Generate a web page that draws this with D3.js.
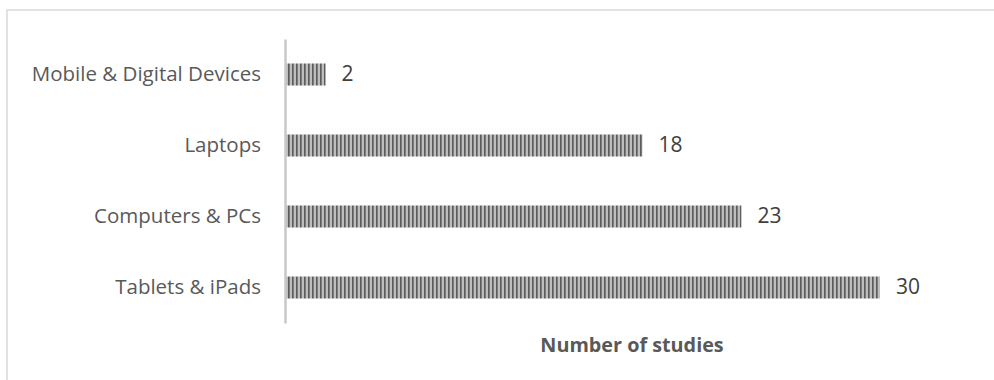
<!DOCTYPE html>
<html>
<head>
<meta charset="utf-8">
<script src="https://cdn.jsdelivr.net/npm/d3@7"></script>
<style>
  html, body { margin: 0; padding: 0; background: #fff; }
  svg { display: block; }
</style>
</head>
<body>
<svg id="chart" width="994" height="380"></svg>
<script>
// Device categories, top to bottom, and the number of studies for each
const categories = ["Mobile & Digital Devices", "Laptops", "Computers & PCs", "Tablets & iPads"];
const studies = [2, 18, 23, 30];
const axisTitle = "Number of studies";

const svg = d3.select("#chart");
const W = 994, H = 380;
const margin = { left: 286, right: 114, top: 39, bottom: 57 };
const FONT = "'Open Sans', sans-serif";

// Outer frame
svg.append("rect")
  .attr("x", 7).attr("y", 10)
  .attr("width", W + 10).attr("height", H + 10)
  .attr("fill", "#fff").attr("stroke", "#d9d9d9").attr("stroke-width", 1.5);

// Vertical striped fill for the bars
const defs = svg.append("defs");
const pat = defs.append("pattern")
  .attr("id", "stripes").attr("patternUnits", "userSpaceOnUse")
  .attr("width", 4).attr("height", 4);
pat.append("rect").attr("width", 4).attr("height", 4).attr("fill", "#bdbdbd");
pat.append("rect").attr("x", 0).attr("width", 1).attr("height", 4).attr("fill", "#5c5c5c");
pat.append("rect").attr("x", 1).attr("width", 1).attr("height", 4).attr("fill", "#7c7c7c");

const x = d3.scaleLinear().domain([0, 30]).range([margin.left, W - margin.right]);
const y = d3.scaleBand().domain(categories)
  .range([margin.top, H - margin.bottom]).paddingInner(0.69).paddingOuter(0.345);

const data = categories.map((c, i) => ({ c, v: studies[i] }));

svg.selectAll("rect.bar").data(data).join("rect")
  .attr("class", "bar")
  .attr("x", x(0))
  .attr("y", d => y(d.c))
  .attr("width", d => x(d.v) - x(0))
  .attr("height", y.bandwidth())
  .attr("fill", "url(#stripes)");

// Category axis: vertical line plus right-aligned labels
const yAxis = d3.axisLeft(y).tickSize(0).tickPadding(24);
const ga = svg.append("g").attr("transform", `translate(${x(0) - 1},0)`).call(yAxis);
ga.select(".domain").attr("stroke", "#c8c8c8").attr("stroke-width", 2.5);
ga.selectAll("text")
  .attr("font-family", FONT)
  .attr("font-size", 20.5)
  .attr("dy", "0.3em")
  .attr("fill", "#595959");

// Value labels
svg.selectAll("text.val").data(data).join("text")
  .attr("class", "val")
  .attr("x", d => x(d.v) + 16)
  .attr("y", d => y(d.c) + y.bandwidth() / 2)
  .attr("dy", "0.3em")
  .attr("font-family", FONT)
  .attr("font-size", 21)
  .attr("fill", "#404040")
  .text(d => d.v);

// Axis title
svg.append("text")
  .attr("x", 632)
  .attr("y", 352)
  .attr("text-anchor", "middle")
  .attr("font-family", FONT)
  .attr("font-weight", "bold")
  .attr("font-size", 19.8)
  .attr("fill", "#595959")
  .text(axisTitle);
</script>
</body>
</html>
